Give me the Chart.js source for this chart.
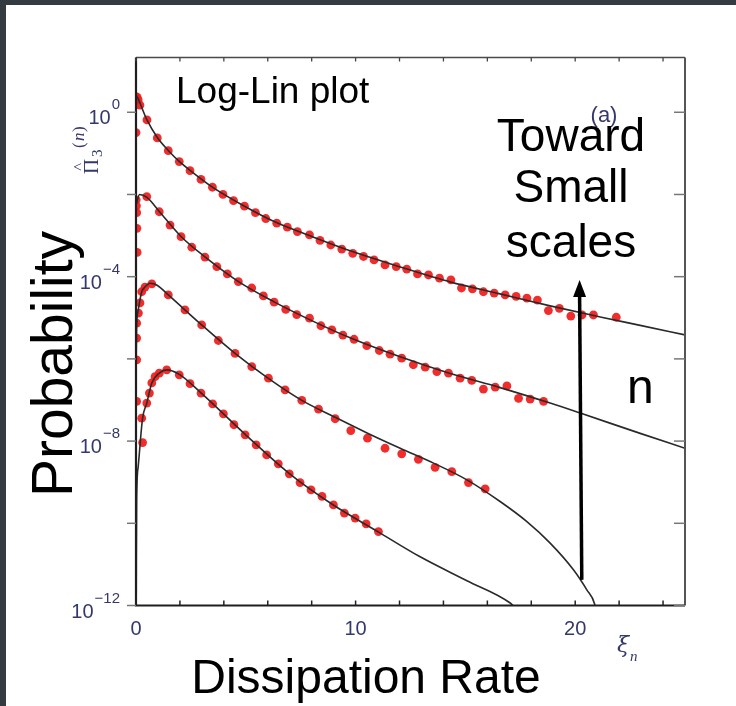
<!DOCTYPE html>
<html>
<head>
<meta charset="utf-8">
<script src="https://cdn.jsdelivr.net/npm/chart.js@4.4.1/dist/chart.umd.min.js"></script>
<style>
  html, body { margin: 0; padding: 0; background: #ffffff; }
  #wrap { position: relative; width: 736px; height: 706px; }
</style>
</head>
<body>
<div id="wrap"><canvas id="c" width="736" height="706"></canvas></div>
<script>
// Measured PDFs of the dissipation rate at four scales (n = 1 bottom ... n = 4 top).
// Dots: measured points. Lines: fitted curves.

// n = 4 (top)
const xDotsN4 = [0.0, 0.0, 0.05, 0.1, 0.18, 0.5, 0.97, 1.47, 1.97, 2.46, 2.96, 3.48, 3.96, 4.44, 4.94, 5.44, 5.91, 6.41, 6.89, 7.35, 7.90, 8.38, 8.87, 9.37, 9.87, 10.36, 10.84, 11.34, 11.85, 12.33, 12.82, 13.32, 13.82, 14.34, 14.82, 15.32, 15.82, 16.31, 16.81, 17.31, 17.80, 18.28, 18.78, 19.28, 19.80, 20.31, 20.83, 21.87];
const yDotsN4 = [0.32, 2.4, 2.3, 2.0, 1.5, 0.65, 0.237, 0.116, 0.063, 0.038, 0.0232, 0.015, 0.0100, 0.0071, 0.0052, 0.0036, 0.0026, 0.0020, 0.0016, 0.00125, 1.04e-3, 7.6e-4, 5.9e-4, 4.7e-4, 3.7e-4, 3.1e-4, 2.56e-4, 1.93e-4, 1.76e-4, 1.52e-4, 1.17e-4, 1.10e-4, 9.2e-5, 8.4e-5, 5.3e-5, 5.05e-5, 4.3e-5, 4.0e-5, 3.6e-5, 3.3e-5, 3.0e-5, 2.7e-5, 1.5e-5, 1.7e-5, 1.1e-5, 1.17e-5, 1.17e-5, 1.03e-5];
const xFitN4 = [0.05, 0.18, 0.5, 0.97, 1.47, 1.97, 2.46, 3.46, 4.92, 6.42, 7.93, 9.89, 12.03, 14.3, 16.58, 18.86, 21.14, 22.96, 25.0];
const yFitN4 = [2.42, 1.68, 0.65, 0.244, 0.118, 0.0636, 0.0385, 0.0153, 5.26e-3, 2.04e-3, 9.84e-4, 4.02e-4, 1.73e-4, 7.48e-5, 3.82e-5, 1.95e-5, 1.05e-5, 6.54e-6, 3.84e-6];

// n = 3
const xDotsN3 = [0.01, 0.02, 0.03, 0.04, 0.05, 0.49, 1.06, 1.55, 2.05, 2.54, 3.14, 3.68, 4.16, 4.66, 5.27, 5.80, 6.29, 6.82, 7.32, 7.90, 8.42, 8.92, 9.42, 9.93, 10.51, 11.08, 11.57, 12.10, 12.63, 13.17, 13.70, 14.23, 14.76, 15.29, 15.82, 16.36, 16.89, 17.42, 17.95, 18.56];
const yDotsN3 = [7.4e-3, 5.3e-3, 3.6e-3, 1.5e-3, 3.9e-4, 8.9e-3, 3.8e-3, 1.8e-3, 9.4e-4, 5.2e-4, 3.0e-4, 1.76e-4, 1.17e-4, 7.6e-5, 5.3e-5, 3.4e-5, 2.4e-5, 1.6e-5, 1.2e-5, 9.8e-6, 6.4e-6, 5.1e-6, 3.8e-6, 3.0e-6, 2.1e-6, 1.6e-6, 1.3e-6, 1.04e-6, 7.2e-7, 6.3e-7, 4.9e-7, 4.5e-7, 3.4e-7, 3.0e-7, 1.84e-7, 2.05e-7, 2.2e-7, 1.1e-7, 1.05e-7, 9.2e-8];
const xFitN3 = [0.02, 0.16, 0.5, 1.06, 2.05, 3.14, 4.65, 6.29, 7.93, 9.75, 12.03, 14.31, 16.58, 18.86, 20.23, 22.96, 25.0];
const yFitN3 = [6.0e-3, 0.0100, 8.5e-3, 3.87e-3, 9.5e-4, 3.03e-4, 7.7e-5, 2.44e-5, 8.9e-6, 3.25e-6, 1.12e-6, 4.4e-7, 2.0e-7, 8.4e-8, 4.8e-8, 1.54e-8, 6.7e-9];

// n = 2
const xDotsN2 = [0.03, 0.03, 0.03, 0.11, 0.18, 0.26, 0.41, 0.72, 1.47, 2.23, 2.99, 3.75, 4.51, 5.27, 6.03, 6.79, 7.55, 8.31, 9.07, 9.78, 10.54, 11.34, 12.10, 12.86, 13.62, 14.38, 15.14, 15.90];
const yDotsN2 = [9.5e-7, 3.2e-6, 7.4e-6, 1.3e-5, 2.3e-5, 4.3e-5, 5.6e-5, 6.7e-5, 3.6e-5, 1.56e-5, 6.7e-6, 2.8e-6, 1.36e-6, 6.5e-7, 3.4e-7, 1.76e-7, 9.8e-8, 6.0e-8, 3.5e-8, 1.8e-8, 1.18e-8, 6.7e-9, 4.9e-9, 3.6e-9, 2.3e-9, 1.8e-9, 9.8e-10, 6.9e-10];
const xFitN2 = [0.01, 0.03, 0.10, 0.26, 0.41, 0.64, 0.96, 1.47, 2.99, 4.51, 6.01, 7.55, 9.07, 10.52, 12.03, 13.55, 15.07, 16.58, 17.80, 18.86, 19.92, 20.53, 20.88, 21.0];
const yFitN2 = [1.0e-6, 6.2e-6, 1.53e-5, 4.3e-5, 5.6e-5, 6.9e-5, 6.2e-5, 3.6e-5, 6.7e-6, 1.36e-6, 3.4e-7, 9.8e-8, 3.8e-8, 1.58e-8, 6.7e-9, 2.91e-9, 1.14e-9, 3.39e-10, 1.1e-10, 3.3e-11, 7.4e-12, 2.4e-12, 1.1e-12, 5e-13];

// n = 1 (bottom)
const xDotsN1 = [0.03, 0.26, 0.30, 0.49, 0.61, 0.72, 0.87, 1.06, 1.40, 1.97, 2.46, 2.96, 3.49, 3.98, 4.46, 4.97, 5.47, 5.95, 6.48, 6.98, 7.47, 7.97, 8.47, 8.99, 9.49, 9.98, 10.48, 11.04];
const yDotsN1 = [9.2e-8, 3.6e-8, 9.2e-9, 8.4e-8, 1.47e-7, 2.6e-7, 3.7e-7, 4.5e-7, 5.4e-7, 4.1e-7, 2.5e-7, 1.47e-7, 8.0e-8, 4.6e-8, 2.5e-8, 1.42e-8, 8.1e-9, 4.6e-9, 2.8e-9, 1.6e-9, 9.8e-10, 6.5e-10, 4.5e-10, 2.8e-10, 1.77e-10, 1.34e-10, 9.7e-11, 6.3e-11];
const xFitN1 = [0.005, 0.015, 0.03, 0.10, 0.30, 0.49, 0.72, 1.06, 1.40, 1.97, 2.96, 4.97, 6.97, 8.97, 11.03, 12.94, 15.07, 17.04, 17.3];
const yFitN1 = [1e-13, 1.3e-11, 3.7e-10, 2.4e-9, 3.6e-8, 8.4e-8, 2.6e-7, 4.5e-7, 5.4e-7, 4.2e-7, 1.49e-7, 1.46e-8, 1.64e-9, 2.82e-10, 6.2e-11, 1.53e-11, 4.0e-12, 1.15e-12, 8.5e-13];

// Axis ticks and labels
const xTickValues = [0, 2, 4, 6, 8, 10, 12, 14, 16, 18, 20, 22, 24];
const xTickLabels = ['0', '10', '20'];
const yTickExponents = [0, -2, -4, -6, -8, -10, -12];
const yLabelExponents = [0, -4, -8, -12];

const pts = (xs, ys) => xs.map((x, i) => ({ x: x, y: ys[i] }));

const fitStyle = {
  showLine: true, pointRadius: 0, borderColor: '#2a2a2a', borderWidth: 1.6,
  cubicInterpolationMode: 'monotone', fill: false, order: 0
};
const dotStyle = {
  showLine: false, pointRadius: 4.4, pointHoverRadius: 4.4,
  backgroundColor: 'rgba(240,26,26,0.92)', borderWidth: 0, order: 1
};

const decorations = {
  id: 'decorations',
  beforeDraw(chart) {
    const ctx = chart.ctx;
    ctx.save();
    ctx.fillStyle = '#ffffff';
    ctx.fillRect(0, 0, chart.width, chart.height);
    ctx.fillStyle = '#353c41';
    ctx.fillRect(0, 0, chart.width, 5);
    ctx.fillRect(0, 0, 6, chart.height);
    ctx.restore();
  },
  afterDraw(chart) {
    const ctx = chart.ctx;
    const xs = chart.scales.x, ys = chart.scales.y;
    const a = chart.chartArea;
    ctx.save();

    // frame
    ctx.lineCap = 'butt';
    ctx.strokeStyle = '#4a4a4a'; ctx.lineWidth = 1.6;
    ctx.beginPath(); ctx.moveTo(a.left, a.top); ctx.lineTo(a.right, a.top); ctx.stroke();
    ctx.strokeStyle = '#555555'; ctx.lineWidth = 2;
    ctx.beginPath(); ctx.moveTo(a.right, a.top); ctx.lineTo(a.right, a.bottom); ctx.stroke();
    ctx.strokeStyle = '#1e1e1e'; ctx.lineWidth = 2.2;
    ctx.beginPath(); ctx.moveTo(a.left, a.top); ctx.lineTo(a.left, a.bottom); ctx.lineTo(a.right, a.bottom); ctx.stroke();

    // x ticks (inward, bottom and top)
    xTickValues.forEach(v => {
      const px = xs.getPixelForValue(v);
      ctx.strokeStyle = '#222'; ctx.lineWidth = 1.5;
      ctx.beginPath(); ctx.moveTo(px, a.bottom); ctx.lineTo(px, a.bottom - 5); ctx.stroke();
      ctx.strokeStyle = '#444'; ctx.lineWidth = 1.3;
      ctx.beginPath(); ctx.moveTo(px, a.top); ctx.lineTo(px, a.top + 4); ctx.stroke();
    });
    // y ticks (outward on the left, inward on the right)
    yTickExponents.forEach(e => {
      const py = ys.getPixelForValue(Math.pow(10, e));
      ctx.strokeStyle = '#777'; ctx.lineWidth = 1.5;
      ctx.beginPath(); ctx.moveTo(a.left - 9, py); ctx.lineTo(a.left, py); ctx.stroke();
      ctx.beginPath(); ctx.moveTo(a.right - 11, py); ctx.lineTo(a.right, py); ctx.stroke();
    });

    // tick labels
    ctx.fillStyle = '#34386b';
    ctx.textBaseline = 'alphabetic';
    ctx.font = '20px "Liberation Sans", Arial, sans-serif';
    ctx.textAlign = 'center';
    xTickLabels.forEach(t => {
      ctx.fillText(t, xs.getPixelForValue(Number(t)), 635);
    });
    yLabelExponents.forEach(e => {
      const py = ys.getPixelForValue(Math.pow(10, e));
      const sup = e === 0 ? '0' : '\u2212' + String(-e);
      ctx.font = '15px "Liberation Sans", Arial, sans-serif';
      const sw = ctx.measureText(sup).width;
      ctx.textAlign = 'right';
      ctx.fillText(sup, 120, py - 3);
      ctx.font = '20px "Liberation Sans", Arial, sans-serif';
      ctx.fillText('10', 120 - sw - 1, py + 12);
    });

    // axis symbol ξ_n
    ctx.textAlign = 'left';
    ctx.fillStyle = '#34386b';
    ctx.font = 'italic 22px "DejaVu Serif", "Liberation Serif", serif';
    ctx.fillText('\u03be', 617, 652);
    ctx.font = 'italic 15px "Liberation Serif", serif';
    ctx.fillText('n', 630, 661);

    // rotated symbol Π̂₃⁽ⁿ⁾
    ctx.save();
    ctx.translate(98, 174);
    ctx.rotate(-Math.PI / 2);
    ctx.font = '21px "Liberation Serif", serif';
    ctx.fillText('\u03a0', 0, 0);
    ctx.font = '15px "Liberation Serif", serif';
    ctx.fillText('\u02c4', 3, -16);
    ctx.fillText('3', 17, 4);
    ctx.font = '17px "Liberation Serif", serif';
    ctx.fillText('(', 26, -14);
    ctx.font = 'italic 17px "Liberation Serif", serif';
    ctx.fillText('n', 33, -14);
    ctx.font = '17px "Liberation Serif", serif';
    ctx.fillText(')', 42, -14);
    ctx.restore();

    // panel mark
    ctx.textAlign = 'center';
    ctx.font = '22px "Liberation Sans", Arial, sans-serif';
    ctx.fillText('(a)', 604, 122);

    // annotations
    ctx.fillStyle = '#000000';
    ctx.textAlign = 'left';
    ctx.font = '37px "Liberation Sans", Arial, sans-serif';
    ctx.fillText('Log-Lin plot', 176, 103);

    ctx.textAlign = 'center';
    ctx.font = '46px "Liberation Sans", Arial, sans-serif';
    ctx.fillText('Toward', 571, 151);
    ctx.fillText('Small', 571, 202);
    ctx.fillText('scales', 571, 257);

    ctx.textAlign = 'left';
    ctx.font = '48px "Liberation Sans", Arial, sans-serif';
    ctx.fillText('n', 627, 403);

    ctx.textAlign = 'center';
    ctx.font = '48px "Liberation Sans", Arial, sans-serif';
    ctx.fillText('Dissipation Rate', 366, 693);

    ctx.save();
    ctx.translate(72, 364);
    ctx.rotate(-Math.PI / 2);
    ctx.font = '57px "Liberation Sans", Arial, sans-serif';
    ctx.fillText('Probability', 0, 0);
    ctx.restore();

    // arrow pointing toward small scales
    const bx = xs.getPixelForValue(20.30), by = ys.getPixelForValue(4.2e-12);
    const tx = xs.getPixelForValue(20.20), ty = ys.getPixelForValue(8.35e-5);
    const headLen = 17, headHalf = 6.5;
    ctx.strokeStyle = '#000'; ctx.lineWidth = 3.5;
    ctx.beginPath(); ctx.moveTo(bx, by); ctx.lineTo(tx, ty + headLen - 2); ctx.stroke();
    ctx.fillStyle = '#000';
    ctx.beginPath();
    ctx.moveTo(tx, ty);
    ctx.lineTo(tx - headHalf, ty + headLen);
    ctx.lineTo(tx + headHalf, ty + headLen);
    ctx.closePath(); ctx.fill();

    ctx.restore();
  }
};

const hiddenAxis = {
  ticks: { display: false },
  grid: { display: false, drawTicks: false, tickLength: 0 },
  border: { display: false },
  title: { display: false }
};

new Chart(document.getElementById('c'), {
  type: 'scatter',
  data: {
    datasets: [
      Object.assign({ label: 'fit n=4', data: pts(xFitN4, yFitN4) }, fitStyle),
      Object.assign({ label: 'fit n=3', data: pts(xFitN3, yFitN3) }, fitStyle),
      Object.assign({ label: 'fit n=2', data: pts(xFitN2, yFitN2) }, fitStyle),
      Object.assign({ label: 'fit n=1', data: pts(xFitN1, yFitN1) }, fitStyle),
      Object.assign({ label: 'n=4', data: pts(xDotsN4, yDotsN4) }, dotStyle),
      Object.assign({ label: 'n=3', data: pts(xDotsN3, yDotsN3) }, dotStyle),
      Object.assign({ label: 'n=2', data: pts(xDotsN2, yDotsN2) }, dotStyle),
      Object.assign({ label: 'n=1', data: pts(xDotsN1, yDotsN1) }, dotStyle)
    ]
  },
  options: {
    responsive: false,
    devicePixelRatio: 1,
    animation: false,
    events: [],
    layout: { padding: { left: 136, top: 57.5, right: 51, bottom: 100.5 } },
    plugins: { legend: { display: false }, tooltip: { enabled: false } },
    scales: {
      x: Object.assign({ type: 'linear', min: 0, max: 25 }, hiddenAxis),
      y: Object.assign({ type: 'logarithmic', min: 1e-12, max: 21.5 }, hiddenAxis)
    }
  },
  plugins: [decorations]
});
</script>
</body>
</html>
